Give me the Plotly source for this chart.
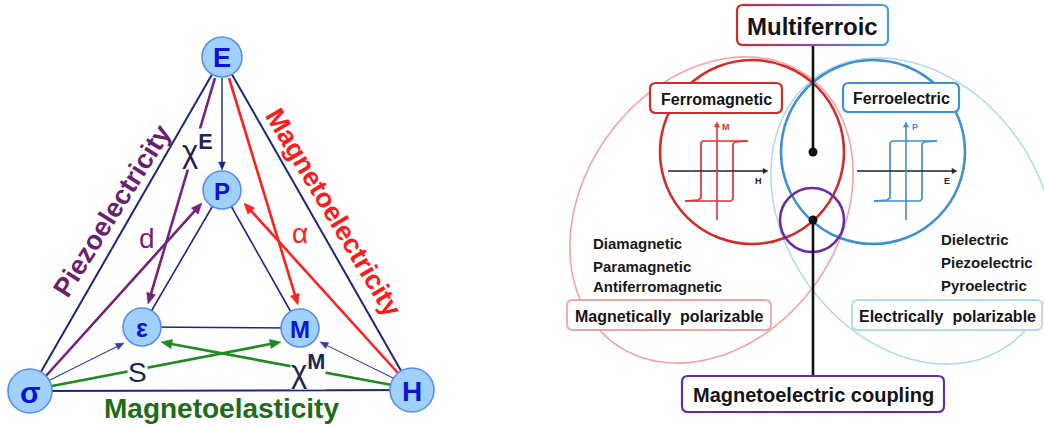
import numpy as np
import plotly.graph_objects as go

W, H = 1044, 428
FONT = "Liberation Sans, Arial, sans-serif"

# ---------------- left diagram data ----------------
NODE_LABELS = ["E", "P", "ε", "M", "σ", "H"]
NODE_X = [222, 222, 142, 300, 30, 412]
NODE_Y = [57, 190, 327, 328, 391, 390]
NODE_R = [20, 19, 19, 19, 22, 22]
NODE_FONT = [27, 24, 25, 24, 30, 28]

OUTER_EDGES = [("E", "σ"), ("E", "H"), ("σ", "H")]
INNER_EDGES = [("P", "ε"), ("P", "M"), ("ε", "M")]

ARROW_NAMES = ["E→P", "E→ε", "σ→P", "E→M", "H→P", "σ→M", "H→ε", "σ→ε", "H→M"]
ARROW_TAIL_X = [222, 215, 45, 229, 398, 52, 392, 50, 393]
ARROW_TAIL_Y = [78, 78, 377, 78, 373, 386, 385, 380, 378]
ARROW_HEAD_X = [222, 148, 202, 298, 244, 281, 161, 124, 320]
ARROW_HEAD_Y = [170, 304, 203, 305, 203, 342, 342, 343, 342]
ARROW_COLOR = ["#1c2680", "#7a1f82", "#7a1f82", "#ff2020", "#ff2020",
               "#1f8a1f", "#1f8a1f", "#3b3b9a", "#3b3b9a"]
ARROW_WIDTH = [1.4, 2.6, 2.6, 2.6, 2.6, 2.6, 2.6, 1.1, 1.1]

COEF_TEXT = ["χ<sup><b>E</b></sup>", "d", "α", "S", "χ<sup><b>M</b></sup>"]
COEF_X = [197, 147, 300, 137, 308]
COEF_Y = [149, 238, 233, 372, 369]
COEF_SIZE = [31, 28, 28, 28, 31]
COEF_COLOR = ["#1c2650", "#7a1f82", "#ff2020", "#1c2650", "#1c2650"]
COEF_BG = [True, False, False, True, True]

SIDE_TEXT = ["Piezoelectricity", "Magnetoelectricity", "Magnetoelasticity"]
SIDE_X = [112, 333, 221]
SIDE_Y = [211, 212, 408]
SIDE_ANGLE = [-58, 59, 0]
SIDE_SIZE = [27, 27, 28]
SIDE_COLOR = ["#6b1f6e", "#ff1a1a", "#1d6b1d"]

# ---------------- right diagram data ----------------
BOX_TEXT = ["Multiferroic", "Ferromagnetic", "Ferroelectric",
            "Magnetically  polarizable", "Electrically  polarizable",
            "Magnetoelectric coupling"]
BOX_X0 = [737, 650, 843, 567, 852, 682]
BOX_X1 = [888, 782, 959, 771, 1042, 944]
BOX_Y0 = [5, 83, 83, 300, 300, 376]
BOX_Y1 = [45, 113, 112, 330, 330, 412]
BOX_COLOR = [None, "#d42a2a", "#3d8fd6", "#f4a3a3", "#b3daf1", "#6a2aa8"]
BOX_FONT = [24, 16, 16, 16, 16, 20]

CIRCLE_NAMES = ["Ferromagnetic", "Ferroelectric", "Coupling"]
CIRCLE_X = [752, 873, 812]
CIRCLE_Y = [152, 152, 220]
CIRCLE_R = [92, 92, 32]
CIRCLE_COLOR = ["#d42a2a", "#3d8fd6", "#6a2aa8"]

ELLIPSE_X = [711.5, 912.5]
ELLIPSE_Y = [210, 211]
ELLIPSE_A = [165, 165]
ELLIPSE_B = [127.5, 127.5]
ELLIPSE_TILT = [54, 126]
ELLIPSE_COLOR = ["#f4a3a3", "#b3daf1"]

LIST_MAG = ["Diamagnetic", "Paramagnetic", "Antiferromagnetic"]
LIST_MAG_Y = [243, 266, 286]
LIST_ELEC = ["Dielectric", "Piezoelectric", "Pyroelectric"]
LIST_ELEC_Y = [239, 262, 285]

LOOP_ORIGIN_X = [717, 906]
LOOP_ORIGIN_Y = [171, 171]
LOOP_COLOR = ["#e03030", "#3d8fd6"]
LOOP_AXIS_LABEL_V = ["M", "P"]
LOOP_AXIS_LABEL_H = ["H", "E"]
# loop outline, relative to the loop's origin
LOOP_UP_DX = [-32, -19, -16, -16, -14, 31]
LOOP_UP_DY = [30, 29, 27, -28, -30, -30]
LOOP_DN_DX = [31, 18, 16, 16, 14, -32]
LOOP_DN_DY = [-30, -29, -27, 28, 30, 30]

shapes = []
annotations = []


def line(x0, y0, x1, y1, color, width, dash="solid"):
    shapes.append(dict(type="line", xref="x", yref="y", x0=x0, y0=y0, x1=x1, y1=y1,
                       line=dict(color=color, width=width, dash=dash)))


def arrow(tx, ty, hx, hy, color, width, L=None, hw=None):
    L = L if L is not None else max(8.0, 4.2 * width)
    hw = hw if hw is not None else L * 0.42
    d = np.array([hx - tx, hy - ty], dtype=float)
    d /= np.hypot(*d)
    p = np.array([-d[1], d[0]])
    bx, by = hx - L * d[0], hy - L * d[1]
    line(tx, ty, bx + 1.5 * d[0], by + 1.5 * d[1], color, width)
    path = (f"M{hx},{hy} L{bx + hw * p[0]:.2f},{by + hw * p[1]:.2f} "
            f"L{bx - hw * p[0]:.2f},{by - hw * p[1]:.2f} Z")
    shapes.append(dict(type="path", xref="x", yref="y", path=path, fillcolor=color,
                       line=dict(color=color, width=0.5)))


def rrect_path(x0, y0, x1, y1, r):
    return (f"M{x0+r},{y0} L{x1-r},{y0} Q{x1},{y0} {x1},{y0+r} L{x1},{y1-r} "
            f"Q{x1},{y1} {x1-r},{y1} L{x0+r},{y1} Q{x0},{y1} {x0},{y1-r} "
            f"L{x0},{y0+r} Q{x0},{y0} {x0+r},{y0} Z")


idx = {n: i for i, n in enumerate(NODE_LABELS)}

# outer & inner triangle lines
for a, b in OUTER_EDGES:
    line(NODE_X[idx[a]], NODE_Y[idx[a]], NODE_X[idx[b]], NODE_Y[idx[b]], "#1c2680", 2)
for a, b in INNER_EDGES:
    line(NODE_X[idx[a]], NODE_Y[idx[a]], NODE_X[idx[b]], NODE_Y[idx[b]], "#1c2680", 1.6)

# coupling arrows
for tx, ty, hx, hy, col, w in zip(ARROW_TAIL_X, ARROW_TAIL_Y, ARROW_HEAD_X, ARROW_HEAD_Y, ARROW_COLOR, ARROW_WIDTH):
    arrow(tx, ty, hx, hy, col, w)

# nodes
for n, x, y, r in zip(NODE_LABELS, NODE_X, NODE_Y, NODE_R):
    shapes.append(dict(type="circle", xref="x", yref="y", x0=x - r, y0=y - r, x1=x + r, y1=y + r,
                       fillcolor="#a0d0fc", line=dict(color="#5a8ef2", width=1.6)))

# ---------------- right diagram shapes ----------------
t = np.linspace(0, 2 * np.pi, 181)
for cx, cy, A, B, tilt, col in zip(ELLIPSE_X, ELLIPSE_Y, ELLIPSE_A, ELLIPSE_B, ELLIPSE_TILT, ELLIPSE_COLOR):
    th = np.radians(tilt)
    u = np.array([np.cos(th), -np.sin(th)])
    v = np.array([np.sin(th), np.cos(th)])
    px = cx + A * np.cos(t) * u[0] + B * np.sin(t) * v[0]
    py = cy + A * np.cos(t) * u[1] + B * np.sin(t) * v[1]
    path = "M" + " L".join(f"{a:.1f},{b:.1f}" for a, b in zip(px, py)) + " Z"
    shapes.append(dict(type="path", xref="x", yref="y", path=path,
                       line=dict(color=col, width=1.6)))

for cx, cy, r, col in zip(CIRCLE_X, CIRCLE_Y, CIRCLE_R, CIRCLE_COLOR):
    shapes.append(dict(type="circle", xref="x", yref="y", x0=cx - r, y0=cy - r, x1=cx + r, y1=cy + r,
                       line=dict(color=col, width=2.6)))

# connector lines and dots
line(813, 45, 813, 152, "#111111", 2.6)
line(813, 220, 813, 376, "#111111", 2.6)
for cy in (152, 220):
    shapes.append(dict(type="circle", xref="x", yref="y", x0=808.5, y0=cy - 4.5, x1=817.5, y1=cy + 4.5,
                       fillcolor="#111111", line=dict(color="#111111", width=0)))

# hysteresis loops and their axes
for ox, oy, col, lv, lh in zip(LOOP_ORIGIN_X, LOOP_ORIGIN_Y, LOOP_COLOR, LOOP_AXIS_LABEL_V, LOOP_AXIS_LABEL_H):
    up = " L".join(f"{ox+dx},{oy+dy}" for dx, dy in zip(LOOP_UP_DX, LOOP_UP_DY))
    dn = " L".join(f"{ox+dx},{oy+dy}" for dx, dy in zip(LOOP_DN_DX, LOOP_DN_DY))
    shapes.append(dict(type="path", xref="x", yref="y", path="M" + up, line=dict(color=col, width=1.7)))
    shapes.append(dict(type="path", xref="x", yref="y", path="M" + dn, line=dict(color=col, width=1.7)))
    arrow(ox - 49, oy, ox + 51, oy, "#222222", 1.6, L=5, hw=2.6)
    arrow(ox, oy + 49, ox, oy - 49, col, 1.6, L=5, hw=2.6)
    annotations.append(dict(x=ox + 9, y=oy - 44, xref="x", yref="y", text=f"<b>{lv}</b>", showarrow=False,
                            font=dict(family=FONT, size=9, color=col)))
    annotations.append(dict(x=ox + 41, y=oy + 10, xref="x", yref="y", text=f"<b>{lh}</b>", showarrow=False,
                            font=dict(family=FONT, size=9, color="#222222")))

# boxes
for i, (txt, x0, x1, y0, y1, col, fs) in enumerate(zip(BOX_TEXT, BOX_X0, BOX_X1, BOX_Y0, BOX_Y1, BOX_COLOR, BOX_FONT)):
    shapes.append(dict(type="path", xref="x", yref="y", path=rrect_path(x0, y0, x1, y1, 6),
                       fillcolor="white", line=dict(color=col if col else "rgba(0,0,0,0)",
                                                    width=1.8 if i in (3, 4) else 2.2)))
    annotations.append(dict(x=(x0 + x1) / 2, y=(y0 + y1) / 2 + 1, xref="x", yref="y", text=f"<b>{txt}</b>",
                            showarrow=False, font=dict(family=FONT, size=fs, color="#141414"),
                            xanchor="center", yanchor="middle"))

# gradient border for the Multiferroic box
x0, x1, y0, y1, r = BOX_X0[0], BOX_X1[0], BOX_Y0[0], BOX_Y1[0], 6
c_red, c_mid, c_blue = np.array([212, 42, 42]), np.array([140, 80, 170]), np.array([74, 156, 218])


def grad(f):
    c = c_red + (c_mid - c_red) * (f / 0.5) if f < 0.5 else c_mid + (c_blue - c_mid) * ((f - 0.5) / 0.5)
    return "rgb(%d,%d,%d)" % tuple(c.astype(int))


shapes.append(dict(type="path", xref="x", yref="y",
                   path=f"M{x0+r+2},{y0} L{x0+r},{y0} Q{x0},{y0} {x0},{y0+r} L{x0},{y1-r} Q{x0},{y1} {x0+r},{y1} L{x0+r+2},{y1}",
                   line=dict(color=grad(0), width=2.2)))
shapes.append(dict(type="path", xref="x", yref="y",
                   path=f"M{x1-r-2},{y0} L{x1-r},{y0} Q{x1},{y0} {x1},{y0+r} L{x1},{y1-r} Q{x1},{y1} {x1-r},{y1} L{x1-r-2},{y1}",
                   line=dict(color=grad(1), width=2.2)))
N = 40
xs = np.linspace(x0 + r + 1, x1 - r - 1, N + 1)
for k in range(N):
    f = (k + 0.5) / N
    for yy in (y0, y1):
        line(xs[k], yy, xs[k + 1] + 0.5, yy, grad(f), 2.2)

# node letters
for n, x, y, fs in zip(NODE_LABELS, NODE_X, NODE_Y, NODE_FONT):
    annotations.append(dict(x=x, y=y + 1, xref="x", yref="y", text=f"<b>{n}</b>", showarrow=False,
                            font=dict(family=FONT, size=fs, color="#0a14d6"),
                            xanchor="center", yanchor="middle"))

# coefficient labels
for txt, x, y, fs, col, bg in zip(COEF_TEXT, COEF_X, COEF_Y, COEF_SIZE, COEF_COLOR, COEF_BG):
    annotations.append(dict(x=x, y=y, xref="x", yref="y", text=txt, showarrow=False,
                            font=dict(family=FONT, size=fs, color=col),
                            bgcolor="white" if bg else None, borderpad=0,
                            xanchor="center", yanchor="middle"))

# side labels
for txt, x, y, ang, fs, col in zip(SIDE_TEXT, SIDE_X, SIDE_Y, SIDE_ANGLE, SIDE_SIZE, SIDE_COLOR):
    annotations.append(dict(x=x, y=y, xref="x", yref="y", text=f"<b>{txt}</b>", showarrow=False,
                            textangle=ang, font=dict(family=FONT, size=fs, color=col),
                            xanchor="center", yanchor="middle"))

# material lists
for txt, y in zip(LIST_MAG, LIST_MAG_Y):
    annotations.append(dict(x=591, y=y, xref="x", yref="y", text=f"<b>{txt}</b>", showarrow=False,
                            font=dict(family=FONT, size=15, color="#1a1a1a"), xanchor="left", yanchor="middle"))
for txt, y in zip(LIST_ELEC, LIST_ELEC_Y):
    annotations.append(dict(x=939, y=y, xref="x", yref="y", text=f"<b>{txt}</b>", showarrow=False,
                            font=dict(family=FONT, size=15, color="#1a1a1a"), xanchor="left", yanchor="middle"))

fig = go.Figure(go.Scatter(x=[0, W], y=[0, H], mode="markers", marker=dict(opacity=0), hoverinfo="skip",
                           showlegend=False))
fig.update_layout(width=W, height=H, margin=dict(l=0, r=0, t=0, b=0), autosize=False,
                  paper_bgcolor="white", plot_bgcolor="white",
                  xaxis=dict(range=[0, W], visible=False, fixedrange=True),
                  yaxis=dict(range=[H, 0], visible=False, fixedrange=True),
                  shapes=shapes, annotations=annotations, showlegend=False)
fig.write_html("out.html", config={"displayModeBar": False},
               post_script="document.body.style.margin='0';document.body.style.overflow='hidden';")
